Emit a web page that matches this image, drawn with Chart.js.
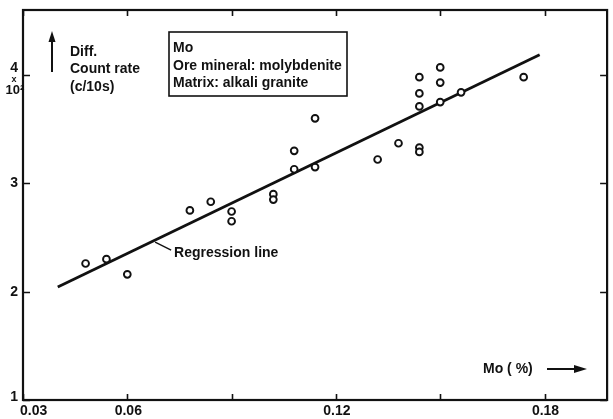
<!DOCTYPE html>
<html>
<head>
<meta charset="utf-8">
<script src="https://cdn.jsdelivr.net/npm/chart.js@4.4.1/dist/chart.umd.min.js"></script>
<style>
  html, body { margin: 0; padding: 0; background: #fff; }
  #wrap { width: 613px; height: 419px; position: relative; }
</style>
</head>
<body>
<div id="wrap"><canvas id="c" width="613" height="419"></canvas></div>
<script>
// Mo content (%) and differential count rate (x 10^2 counts per 10 s)
const moPercent = [0.048, 0.054, 0.060, 0.078, 0.084, 0.090, 0.090, 0.102, 0.102,
  0.108, 0.108, 0.114, 0.114, 0.132, 0.138, 0.144, 0.144, 0.144, 0.150, 0.150,
  0.144, 0.144, 0.150, 0.156, 0.174];
const countRate = [2.26, 2.30, 2.16, 2.75, 2.83, 2.74, 2.65, 2.90, 2.85,
  3.30, 3.13, 3.60, 3.15, 3.22, 3.37, 3.33, 3.29, 3.98, 4.07, 3.93,
  3.83, 3.71, 3.75, 3.84, 3.98];

// Regression line end points
const regressionX = [0.040, 0.1786];
const regressionY = [2.043, 4.186];

// Axis ticks
const xTickValues = [0.03, 0.06, 0.09, 0.12, 0.15, 0.18];
const xTickLabels = ['0.03', '0.06', '', '0.12', '', '0.18'];
const yTickValues = [1, 2, 3, 4];
const yTickLabels = ['1', '2', '3', '4'];

// Annotation text
const legendLines = ['Mo', 'Ore mineral: molybdenite', 'Matrix: alkali granite'];
const yTitleLines = ['Diff.', 'Count rate', '(c/10s)'];
const xTitle = 'Mo ( %)';
const regressionLabel = 'Regression line';
const regressionLabelAt = 0.068;

const INK = '#111';
const FAMILY = '"Liberation Sans", Arial, sans-serif';
const FONT = 'bold 14px ' + FAMILY;

function lerpLine(x) {
  const t = (x - regressionX[0]) / (regressionX[1] - regressionX[0]);
  return regressionY[0] + t * (regressionY[1] - regressionY[0]);
}

const framePlugin = {
  id: 'frame',
  afterDraw(chart) {
    const { ctx, chartArea: a, scales } = chart;
    const xs = scales.x, ys = scales.y;
    ctx.save();
    ctx.strokeStyle = INK;
    ctx.fillStyle = INK;
    ctx.lineWidth = 2.2;
    ctx.strokeRect(a.left, a.top, a.right - a.left, a.bottom - a.top);

    // inward ticks
    ctx.lineWidth = 1.6;
    ctx.beginPath();
    xTickValues.forEach(v => {
      const px = Math.round(xs.getPixelForValue(v)) + 0.5;
      ctx.moveTo(px, a.bottom); ctx.lineTo(px, a.bottom - 6);
      ctx.moveTo(px, a.top); ctx.lineTo(px, a.top + 6);
    });
    yTickValues.forEach(v => {
      const py = Math.round(ys.getPixelForValue(v)) + 0.5;
      ctx.moveTo(a.left, py); ctx.lineTo(a.left + 7, py);
      ctx.moveTo(a.right, py); ctx.lineTo(a.right - 7, py);
    });
    ctx.stroke();

    // x tick labels
    ctx.font = FONT;
    ctx.textBaseline = 'middle';
    xTickValues.forEach((v, i) => {
      if (!xTickLabels[i]) return;
      const px = xs.getPixelForValue(v);
      if (i === 0) { ctx.textAlign = 'left'; ctx.fillText(xTickLabels[i], px - 3, 411); }
      else { ctx.textAlign = 'center'; ctx.fillText(xTickLabels[i], px + 1, 411); }
    });

    // y tick labels
    ctx.textAlign = 'right';
    yTickValues.forEach((v, i) => {
      const py = ys.getPixelForValue(v);
      let y = py;
      if (v === 1) y = py - 3;
      if (v === 4) y = py - 7;
      ctx.fillText(yTickLabels[i], 18, y);
    });
    const p4 = ys.getPixelForValue(4);
    ctx.font = 'bold 9px ' + FAMILY;
    ctx.textAlign = 'center';
    ctx.fillText('x', 14, p4 + 5);
    ctx.font = 'bold 13px ' + FAMILY;
    ctx.fillText('10²', 15, p4 + 15);

    // y axis title with arrow
    ctx.font = FONT;
    ctx.textAlign = 'left';
    yTitleLines.forEach((t, i) => ctx.fillText(t, 70, 52 + i * 17.5));
    ctx.lineWidth = 2;
    ctx.beginPath(); ctx.moveTo(52, 72); ctx.lineTo(52, 40); ctx.stroke();
    ctx.beginPath(); ctx.moveTo(52, 31); ctx.lineTo(48.5, 42); ctx.lineTo(55.5, 42); ctx.closePath(); ctx.fill();

    // x axis title with arrow
    ctx.fillText(xTitle, 483, 369);
    ctx.beginPath(); ctx.moveTo(547, 369); ctx.lineTo(576, 369); ctx.stroke();
    ctx.beginPath(); ctx.moveTo(587, 369); ctx.lineTo(574, 365); ctx.lineTo(574, 373); ctx.closePath(); ctx.fill();

    // legend box
    ctx.lineWidth = 1.6;
    ctx.strokeRect(169, 32, 178, 64);
    legendLines.forEach((t, i) => ctx.fillText(t, 173, 48.5 + i * 17.5));

    // regression label with leader
    const lx = xs.getPixelForValue(regressionLabelAt);
    const ly = ys.getPixelForValue(lerpLine(regressionLabelAt));
    ctx.lineWidth = 1.5;
    ctx.beginPath(); ctx.moveTo(lx, ly + 2); ctx.lineTo(lx + 16, ly + 10); ctx.stroke();
    ctx.fillText(regressionLabel, lx + 19, ly + 13);
    ctx.restore();
  }
};

new Chart(document.getElementById('c'), {
  type: 'scatter',
  data: {
    datasets: [
      {
        label: 'Samples',
        data: moPercent.map((x, i) => ({ x, y: countRate[i] })),
        pointStyle: 'circle',
        pointRadius: 3.4,
        pointBorderWidth: 1.9,
        pointBorderColor: INK,
        pointBackgroundColor: '#fff',
        showLine: false
      },
      {
        label: 'Regression line',
        data: regressionX.map((x, i) => ({ x, y: regressionY[i] })),
        showLine: true,
        borderColor: INK,
        borderWidth: 2.8,
        pointRadius: 0
      }
    ]
  },
  options: {
    responsive: false,
    animation: false,
    layout: { padding: { left: 23, right: 1, top: 10, bottom: 19 } },
    plugins: { legend: { display: false }, tooltip: { enabled: false } },
    scales: {
      x: { type: 'linear', min: 0.03, max: 0.198, display: false },
      y: { type: 'linear', min: 1, max: 4.6, display: false }
    }
  },
  plugins: [framePlugin]
});
</script>
</body>
</html>
